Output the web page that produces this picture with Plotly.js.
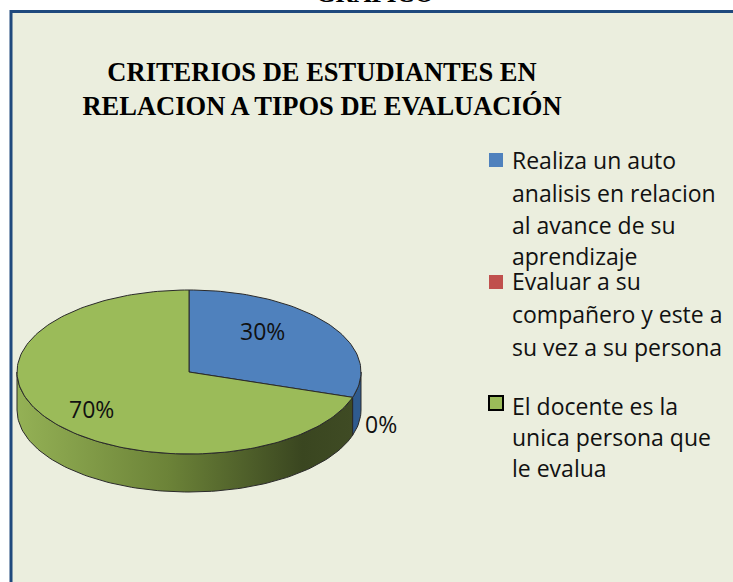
<!DOCTYPE html>
<html>
<head>
<meta charset="utf-8">
<script src="https://cdn.plot.ly/plotly-3.0.1.min.js"></script>
<style>html,body{margin:0;padding:0;background:#fff;}#chart{width:733px;height:582px;}</style>
</head>
<body>
<div id="chart"></div>
<script>
// ---- data ----
const categories = [
  "Realiza un auto analisis en relacion al avance de su aprendizaje",
  "Evaluar a su compañero y este a su vez a su persona",
  "El docente es la unica persona que le evalua"
];
const legendLines = [
  ["Realiza un auto", "analisis en relacion", "al avance de su", "aprendizaje"],
  ["Evaluar a su", "compañero y este a", "su vez a su persona"],
  ["El docente es la", "unica persona que", "le evalua"]
];
const values = [30, 0, 70];
const titleLines = ["CRITERIOS DE ESTUDIANTES EN", "RELACION A TIPOS DE EVALUACIÓN"];
const topText = "GRAFICO";

// ---- style ----
const topColors = ["#4f81bd", "#c0504d", "#9bbb59"];
const sideColors = ["#2f5b8f", "#8c3331", "#6f873c"];
const W = 733, H = 582;
const cx = 189, cy = 372, rx = 172, ry = 82, depth = 38;
const edge = "#2a2a2a";

function pt(tDeg, dy) {
  const t = tDeg * Math.PI / 180;
  return [cx + rx * Math.sin(t), cy - ry * Math.cos(t) + (dy || 0)];
}
function arc(a0, a1, dy) {
  const n = Math.max(2, Math.ceil(Math.abs(a1 - a0) / 1.5));
  const xs = [], ys = [];
  for (let i = 0; i <= n; i++) {
    const p = pt(a0 + (a1 - a0) * i / n, dy);
    xs.push(p[0]); ys.push(p[1]);
  }
  return [xs, ys];
}

const total = values.reduce((a, b) => a + b, 0);
const starts = [], ends = [];
let acc = 0;
values.forEach(v => { starts.push(acc / total * 360); acc += v; ends.push(acc / total * 360); });

const traces = [];
// side walls (front half: 90..270 deg)
values.forEach((v, i) => {
  if (v <= 0) return;
  const a = Math.max(starts[i], 90), b = Math.min(ends[i], 270);
  if (b <= a) return;
  const up = arc(a, b, 0), dn = arc(b, a, depth);
  const tr = {
    type: "scatter", mode: "lines", fill: "toself",
    x: up[0].concat(dn[0], [up[0][0]]),
    y: up[1].concat(dn[1], [up[1][0]]),
    line: {color: edge, width: 1},
    fillcolor: sideColors[i],
    hoverinfo: "skip", showlegend: false
  };
  if (i === 2) {
    tr.fillgradient = {type: "horizontal",
      colorscale: [[0, "#94b155"], [0.45, "#6c8338"], [0.85, "#3a4620"], [1, "#3f4b24"]]};
  }
  traces.push(tr);
});
// top faces
values.forEach((v, i) => {
  if (v <= 0) return;
  const a = arc(starts[i], ends[i], 0);
  traces.push({
    type: "scatter", mode: "lines", fill: "toself",
    x: [cx].concat(a[0], [cx]),
    y: [cy].concat(a[1], [cy]),
    line: {color: edge, width: 1},
    fillcolor: topColors[i],
    name: categories[i],
    hoverinfo: "name", showlegend: false
  });
});

// percent label positions (layout)
const labelPos = [[262, 331], [381, 424], [91, 409]];
const annotations = [];
values.forEach((v, i) => {
  annotations.push({
    x: labelPos[i][0], y: labelPos[i][1], xref: "x", yref: "y",
    text: v + "%", showarrow: false, xanchor: "center", yanchor: "middle",
    font: {family: "Open Sans", size: 23, color: "#111"}
  });
});

// legend (manual)
const legendLineY = [[160, 193, 225, 256], [281, 314, 347], [406, 437, 468]];
const legendSquareY = [160, 282, 403];
const shapes = [
  {type: "rect", xref: "x", yref: "y", x0: 11, y0: 11.5, x1: 760, y1: 600,
   fillcolor: "#ebeede", line: {color: "#1f497d", width: 3}, layer: "below"}
];
legendLines.forEach((lines, i) => {
  shapes.push({type: "rect", xref: "x", yref: "y",
    x0: 489, x1: 503, y0: legendSquareY[i] - 7, y1: legendSquareY[i] + 7,
    fillcolor: topColors[i], line: {color: i === 2 ? "#000" : topColors[i], width: i === 2 ? 2 : 0}});
  lines.forEach((ln, j) => {
    annotations.push({
      x: 510, y: legendLineY[i][j], xref: "x", yref: "y",
      text: ln, showarrow: false, xanchor: "left", yanchor: "middle",
      font: {family: "Open Sans", size: 23, color: "#111"}
    });
  });
});
// clipped heading at top
annotations.push({
  x: 375, y: 9, xref: "x", yref: "y", text: "<b>" + topText + "</b>",
  showarrow: false, xanchor: "center", yanchor: "bottom",
  font: {family: "Liberation Serif", size: 25, color: "#000"}
});

const layout = {
  width: W, height: H,
  margin: {l: 0, r: 0, t: 0, b: 0},
  paper_bgcolor: "#ffffff", plot_bgcolor: "rgba(0,0,0,0)",
  showlegend: false,
  title: {
    text: "<b>" + titleLines.join("<br>") + "</b>",
    x: 322 / W, xanchor: "center", y: 1 - 81 / H, yanchor: "top",
    font: {family: "Liberation Serif", size: 26.5, color: "#000"}
  },
  xaxis: {range: [0, W], visible: false, fixedrange: true},
  yaxis: {range: [H, 0], visible: false, fixedrange: true},
  shapes: shapes,
  annotations: annotations
};

Plotly.newPlot("chart", traces, layout, {displayModeBar: false, staticPlot: true});
</script>
</body>
</html>
